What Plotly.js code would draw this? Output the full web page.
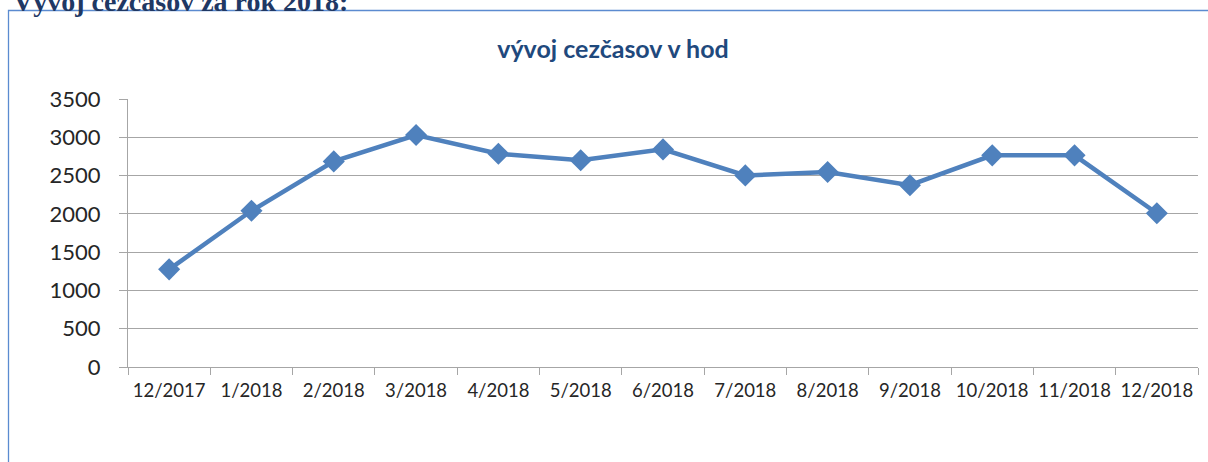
<!DOCTYPE html>
<html>
<head>
<meta charset="utf-8">
<script src="https://cdn.plot.ly/plotly-3.0.1.min.js"></script>
<style>
  html, body { margin: 0; padding: 0; background: #ffffff; }
  #chart { width: 1208px; height: 462px; }
</style>
</head>
<body>
<div id="chart"></div>
<script>
const months = ["12/2017", "1/2018", "2/2018", "3/2018", "4/2018", "5/2018", "6/2018",
                "7/2018", "8/2018", "9/2018", "10/2018", "11/2018", "12/2018"];
const overtimeHours = [1275, 2040, 2685, 3030, 2785, 2700, 2842, 2502, 2547, 2374, 2764, 2764, 2008];
const yTicks = [0, 500, 1000, 1500, 2000, 2500, 3000, 3500];

const chartTitle = "vývoj cezčasov v hod";
const pageHeading = "Vývoj cezčasov za rok 2018:";

const W = 1208, H = 462;
const L = 128, R = 1198, T = 99, B = 367;
const px = x => (x - L) / (R - L);
const py = y => (B - y) / (B - T);

const trace = {
  type: "scatter",
  mode: "lines+markers",
  x: months,
  y: overtimeHours,
  line: { color: "#4F81BD", width: 4.5 },
  marker: { symbol: "diamond", size: 17, color: "#4F81BD" },
  hoverinfo: "skip",
  cliponaxis: false
};

const layout = {
  width: W, height: H,
  margin: { l: L, r: W - R, t: T, b: H - B, pad: 0 },
  paper_bgcolor: "#ffffff",
  plot_bgcolor: "#ffffff",
  showlegend: false,
  font: { family: "Lato, 'Open Sans', sans-serif", color: "#262626" },
  title: {
    text: chartTitle,
    font: { family: "Lato, sans-serif", size: 25, color: "#1F497D", weight: "bold" },
    xref: "container", yref: "container",
    x: 613 / W, y: 1 - 49 / H, xanchor: "center", yanchor: "middle"
  },
  xaxis: {
    type: "category",
    range: [-0.5, months.length - 0.5],
    autorange: false,
    tickson: "boundaries",
    ticks: "outside", ticklen: 7, tickcolor: "#A6A6A6", tickwidth: 1,
    showline: true, linecolor: "#A6A6A6", linewidth: 1,
    showgrid: false, zeroline: false,
    tickfont: { size: 18.5, color: "#262626" },
    ticklabelstandoff: 7,
    fixedrange: true
  },
  yaxis: {
    range: [0, 3500],
    autorange: false,
    tickvals: yTicks,
    ticks: "outside", ticklen: 8, tickcolor: "#A6A6A6", tickwidth: 1,
    showline: true, linecolor: "#A6A6A6", linewidth: 1,
    showgrid: true, gridcolor: "#A6A6A6", gridwidth: 1,
    zeroline: false,
    tickfont: { size: 22, color: "#262626" },
    ticklabelstandoff: 14,
    fixedrange: true
  },
  shapes: [
    {
      type: "rect", xref: "paper", yref: "paper", layer: "below",
      x0: px(8.5), x1: px(1240), y0: py(10.5), y1: py(520),
      line: { color: "#5B8BD0", width: 1.3 }, fillcolor: "rgba(0,0,0,0)"
    }
  ],
  annotations: [
    {
      text: pageHeading, showarrow: false,
      xref: "paper", yref: "paper",
      x: px(11), y: py(19), xanchor: "left", yanchor: "bottom",
      font: { family: "'Liberation Serif', 'DejaVu Serif', serif", size: 28, color: "#1F3864", weight: "bold" }
    }
  ]
};

Plotly.newPlot("chart", [trace], layout, { staticPlot: true, displayModeBar: false });
</script>
</body>
</html>
